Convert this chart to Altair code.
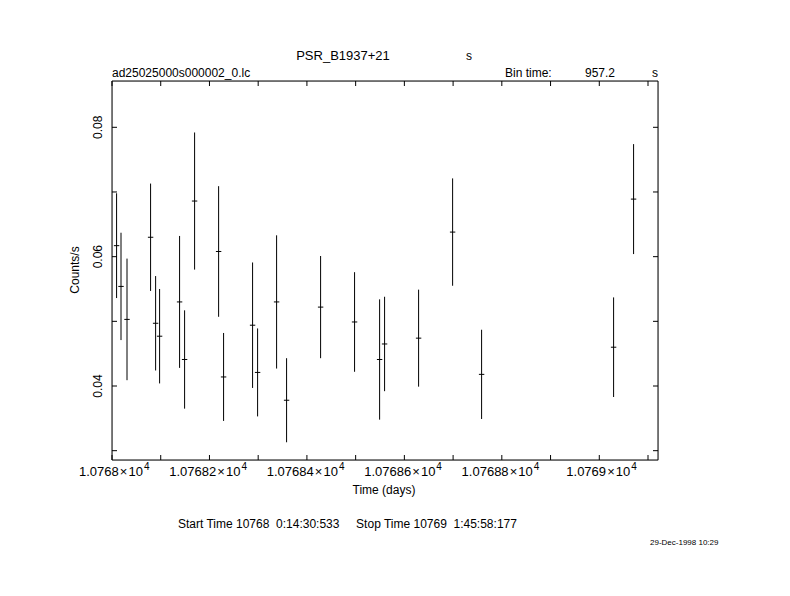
import altair as alt
import pandas as pd

# ---- data ----
time_days = [10768.0094, 10768.0185, 10768.0308, 10768.0792, 10768.0895, 10768.0977,
             10768.1387, 10768.1490, 10768.1695, 10768.2188, 10768.2290, 10768.2885,
             10768.2988, 10768.3378, 10768.3583, 10768.4281, 10768.4978, 10768.5492,
             10768.5594, 10768.6292, 10768.6990, 10768.7585, 10769.0294, 10769.0704]
rate = [0.0617, 0.0554, 0.0503, 0.0630, 0.0497, 0.0477, 0.0530, 0.0441, 0.0686, 0.0608,
        0.0414, 0.0494, 0.0421, 0.0530, 0.0378, 0.0522, 0.0499, 0.0441, 0.0465, 0.0474,
        0.0638, 0.0418, 0.0460, 0.0689]
rate_err = [0.0081, 0.0083, 0.0094, 0.0083, 0.0073, 0.0073, 0.0102, 0.0076, 0.0106, 0.0101,
            0.0068, 0.0097, 0.0068, 0.0103, 0.0065, 0.0079, 0.0077, 0.0093, 0.0073, 0.0075,
            0.0083, 0.0069, 0.0077, 0.0085]
bin_time_s = 957.2

x_ticks_all = [10768.0, 10768.1, 10768.2, 10768.3, 10768.4, 10768.5, 10768.6,
               10768.7, 10768.8, 10768.9, 10769.0, 10769.1]
x_ticks_major = [10768.0, 10768.2, 10768.4, 10768.6, 10768.8, 10769.0]
x_tick_mantissa = ["1.0768", "1.07682", "1.07684", "1.07686", "1.07688", "1.0769"]
x_tick_exponent = ["4", "4", "4", "4", "4", "4"]
y_ticks_all = [0.03, 0.04, 0.05, 0.06, 0.07, 0.08]
y_ticks_major = [0.04, 0.06, 0.08]
y_tick_labels = ["0.04", "0.06", "0.08"]

x_domain = [10768.0, 10769.1205]
y_domain = [0.02856, 0.08716]

W, H = 546, 379
FONT = "Liberation Sans"
NB = "\u00a0"

half_bin = bin_time_s / 86400.0 / 2.0
df = pd.DataFrame({"t": time_days, "r": rate, "e": rate_err})
df["lo"] = df["r"] - df["e"]
df["hi"] = df["r"] + df["e"]
df["t0"] = df["t"] - half_bin
df["t1"] = df["t"] + half_bin

xs = alt.Scale(domain=x_domain, nice=False, zero=False)
ys = alt.Scale(domain=y_domain, nice=False, zero=False)

base = alt.Chart(df)
vbar = base.mark_rule(color="black", strokeWidth=1).encode(
    x=alt.X("t:Q", scale=xs, axis=None),
    y=alt.Y("lo:Q", scale=ys, axis=None),
    y2="hi:Q",
)
hbar = base.mark_rule(color="black", strokeWidth=1).encode(
    x=alt.X("t0:Q", scale=xs, axis=None),
    x2="t1:Q",
    y=alt.Y("r:Q", scale=ys, axis=None),
)

frame = alt.Chart(pd.DataFrame({"a": [0]})).mark_rect(
    fillOpacity=0, stroke="black", strokeWidth=1
).encode(x=alt.value(0), x2=alt.value(W), y=alt.value(0), y2=alt.value(H))

xt = pd.DataFrame({"v": x_ticks_all})
yt = pd.DataFrame({"v": y_ticks_all})
tick_len = 5
xtick_bot = alt.Chart(xt).mark_rule(color="black").encode(
    x=alt.X("v:Q", scale=xs, axis=None), y=alt.value(H), y2=alt.value(H - tick_len))
xtick_top = alt.Chart(xt).mark_rule(color="black").encode(
    x=alt.X("v:Q", scale=xs, axis=None), y=alt.value(0), y2=alt.value(tick_len))
ytick_l = alt.Chart(yt).mark_rule(color="black").encode(
    y=alt.Y("v:Q", scale=ys, axis=None), x=alt.value(0), x2=alt.value(tick_len))
ytick_r = alt.Chart(yt).mark_rule(color="black").encode(
    y=alt.Y("v:Q", scale=ys, axis=None), x=alt.value(W), x2=alt.value(W - tick_len))

xl = pd.DataFrame({"v": x_ticks_major, "m": x_tick_mantissa, "e": x_tick_exponent})
xl["main"] = xl["m"] + "\u200a×\u200a10"
xlabels = alt.Chart(xl).mark_text(font=FONT, fontSize=13, baseline="middle", align="right",
                                  dx=31).encode(
    x=alt.X("v:Q", scale=xs, axis=None), y=alt.value(H + 12), text="main:N")
xsup = alt.Chart(xl).mark_text(font=FONT, fontSize=10, baseline="middle", align="left",
                               dx=32).encode(
    x=alt.X("v:Q", scale=xs, axis=None), y=alt.value(H + 7), text="e:N")

yl = pd.DataFrame({"v": y_ticks_major, "lab": y_tick_labels})
ylabels = alt.Chart(yl).mark_text(font=FONT, fontSize=12, baseline="middle", align="center",
                                  angle=270).encode(
    y=alt.Y("v:Q", scale=ys, axis=None), x=alt.value(-14), text="lab:N")


def txt(s, x, y, align="left", size=12, angle=0):
    return alt.Chart(pd.DataFrame({"s": [s]})).mark_text(
        font=FONT, fontSize=size, align=align, baseline="middle", angle=angle
    ).encode(x=alt.value(x), y=alt.value(y), text="s:N")


texts = [
    txt("PSR_B1937+21", 231, -25, "center", size=13),
    txt("s", 357, -25, "center"),
    txt("ad25025000s000002_0.lc", 0, -8),
    txt("Bin time:", 393, -8),
    txt("957.2", 473, -8),
    txt("s", 540, -8),
    txt("Time (days)", 272, H + 30, "center"),
    txt("Counts/s", -37, 189, "center", angle=270),
    txt("Start Time 10768" + NB * 2 + "0:14:30:533" + NB * 5 + "Stop Time 10769"
        + NB * 2 + "1:45:58:177", 66, H + 64),
    txt("29-Dec-1998 10:29", 538, H + 83, size=8),
]

chart = alt.layer(
    frame, vbar, hbar, xtick_bot, xtick_top, ytick_l, ytick_r,
    xlabels, xsup, ylabels, *texts
).properties(
    width=W, height=H,
    autosize=alt.AutoSizeParams(type="none"),
    padding={"left": 104, "top": 73, "right": 124, "bottom": 128},
).configure_view(strokeWidth=0).configure(background="white")

chart.save("out.html", embed_options={"renderer": "svg", "actions": False})
